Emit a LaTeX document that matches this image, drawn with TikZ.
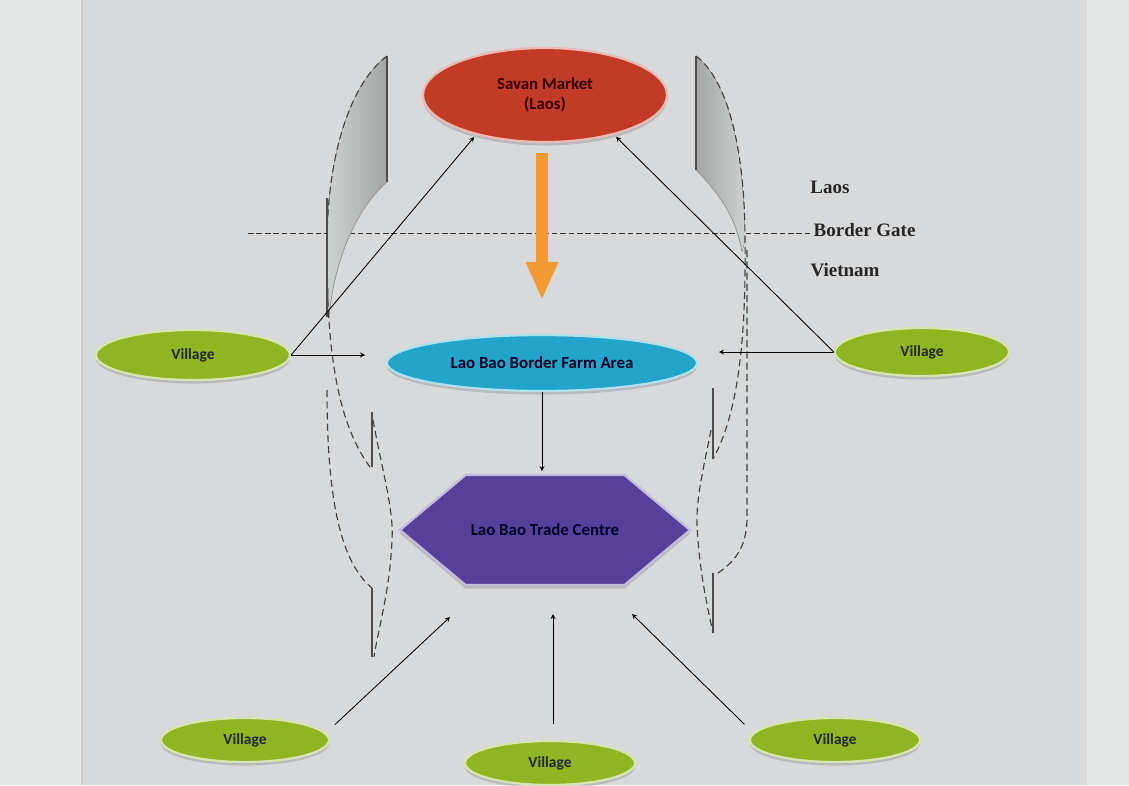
\documentclass[tikz,border=0pt]{standalone}
\usepackage{fontspec}
\setmainfont{Carlito}
\newfontfamily\labelfont{Liberation Serif}
\usetikzlibrary{shapes.geometric,shapes.symbols,shadows,arrows.meta}

\definecolor{panel}{HTML}{D7D9DA}
\definecolor{margin}{HTML}{E3E4E4}
\definecolor{marketred}{HTML}{C23B27}
\definecolor{farmblue}{HTML}{22A5C9}
\definecolor{tradeviolet}{HTML}{56419A}
\definecolor{villagegreen}{HTML}{8FB522}
\definecolor{flow}{HTML}{F39A32}
\definecolor{hornlight}{HTML}{CFD1D1}
\definecolor{horndark}{HTML}{A3A5A5}

\begin{document}
\begin{tikzpicture}[x=0.025cm, y=-0.025cm,
	place/.style={ellipse, inner sep=0pt, fill=#1, draw=#1!35!white, line width=1.6pt,
		drop shadow={shadow xshift=0pt, shadow yshift=-2.5pt, opacity=.35}},
	village/.style={place=villagegreen, minimum width=4.2cm, minimum height=1.1cm,
		font=\bfseries\fontsize{11}{13}\selectfont, text=black!85},
	road/.style={black, line width=.6pt, ->, >=stealth},
	trace/.style={black!75, line width=.8pt, dash pattern=on 5pt off 3pt},
	post/.style={black!70, line width=1.2pt},
	side/.style={font=\labelfont\bfseries\fontsize{13.5}{15}\selectfont, text=black!85}]
	\useasboundingbox (0,0) rectangle (1129,785);
	% background of the slide
	\fill[panel] (0,0) rectangle (1129,785);
	\fill[margin] (0,0) rectangle (82,785);
	\fill[margin] (1086,0) rectangle (1129,785);
	\draw[black!20, line width=1pt] (82,0) -- (82,785);
	\draw[black!15, line width=1pt] (1086,0) -- (1086,785);

	% border line and countries
	\coordinate (borderstart) at (248,233);
	\node[side, anchor=west, inner sep=1pt] (gate) at (812,230) {Border Gate};
	\node[side] (laos) at (830,187) {Laos};
	\node[side] (vietnam) at (845,270) {Vietnam};
	\draw[black!80, line width=.7pt, dash pattern=on 4pt off 2pt] (borderstart) -- (gate.west |- borderstart);

	% left horn and traces
	\fill[left color=hornlight, right color=horndark] (387,56) -- (387,182)
		.. controls (355,210) and (334,262) .. (329,317) -- (327,240)
		.. controls (328,150) and (352,82) .. (387,56) -- cycle;
	\draw[black!40, line width=.5pt] (387,182) .. controls (355,210) and (334,262) .. (329,317);
	\draw[post] (387,56) -- (387,182);
	\draw[trace] (387,56) .. controls (352,82) and (328,150) .. (327,240)
		.. controls (326,340) and (335,420) .. (370,467);
	\draw[post] (327,198) -- (327,317);
	\draw[post] (372,412) -- (372,467);
	\draw[trace] (327,390) .. controls (327,490) and (338,560) .. (372,588);
	\draw[post] (372,588) -- (372,657);
	\draw[trace] (373,420) .. controls (382,470) and (394,510) .. (392,540)
		.. controls (390,590) and (378,630) .. (374,657);

	% right horn and traces
	\fill[left color=horndark, right color=hornlight] (696,56) -- (696,170)
		.. controls (716,190) and (736,215) .. (742,252) -- (745,240)
		.. controls (744,150) and (728,80) .. (696,56) -- cycle;
	\draw[black!40, line width=.5pt] (696,170) .. controls (716,190) and (736,215) .. (742,252);
	\draw[post] (696,56) -- (696,170);
	\draw[trace] (696,56) .. controls (728,80) and (745,150) .. (745,240)
		.. controls (746,330) and (740,410) .. (713,459);
	\draw[post] (713,388) -- (713,459);
	\draw[trace] (747,250) -- (747,520) .. controls (746,548) and (735,562) .. (715,575);
	\draw[post] (713,573) -- (713,633);
	\draw[trace] (711,430) .. controls (703,470) and (696,500) .. (697,525)
		.. controls (699,570) and (708,610) .. (713,633);

	% places
	\node[place=marketred, minimum width=6.1cm, minimum height=2.35cm, align=center,
		font=\bfseries\fontsize{12}{14}\selectfont, text=black!80!red] (savan) at (545,95)
		{Savan Market\\(Laos)};
	\node[place=farmblue, minimum width=7.75cm, minimum height=1.4cm,
		font=\bfseries\fontsize{12}{14}\selectfont, text=black!85!blue] (farm) at (542,363)
		{Lao Bao Border Farm Area};
	\node[signal, signal to=east and west, signal pointer angle=80, inner sep=0pt,
		minimum width=7.25cm, minimum height=2.75cm, fill=tradeviolet,
		draw=tradeviolet!35!white, line width=1.6pt,
		drop shadow={shadow xshift=0pt, shadow yshift=-2.5pt, opacity=.35},
		font=\bfseries\fontsize{12}{14}\selectfont, text=black!85!blue] (centre) at (545,530)
		{Lao Bao Trade Centre};

	% villages
	\node[village, minimum width=4.85cm, minimum height=1.25cm] (vl) at (193,355) {Village};
	\node[village, minimum width=4.35cm, minimum height=1.2cm] (vr) at (922,352) {Village};
	\node[village] (vbl) at (245,740) {Village};
	\node[village, minimum width=4.25cm] (vbm) at (550,763) {Village};
	\node[village, minimum width=4.25cm] (vbr) at (835,740) {Village};

	% flow from Laos
	\draw[flow, line width=.3cm, -{Triangle[length=.95cm, width=.75cm]},
		shorten <=.25cm, shorten >=.85cm] (savan.south -| farm.north) -- (farm.north);

	% trade routes
	\coordinate (inbl) at (450,617);
	\coordinate (inbm) at (553,614);
	\coordinate (inbr) at (632,614);
	\draw[road, shorten >=.52cm] (vl.east) -- (vl.east -| farm.west);
	\draw[road, shorten >=2pt] (vl.east) -- (savan.210);
	\draw[road, shorten >=.52cm] (vr.west) -- (vr.west -| farm.east);
	\draw[road, shorten >=2pt] (vr.west) -- (savan.330);
	\draw[road, shorten >=2pt] (farm.south) -- (farm.south |- centre.north);
	\draw[road, shorten <=.3cm] (vbl.5) -- (inbl);
	\draw[road, shorten <=.4cm] (inbm |- vbm.north) -- (inbm);
	\draw[road, shorten <=.3cm] (vbr.175) -- (inbr);
\end{tikzpicture}
\end{document}
